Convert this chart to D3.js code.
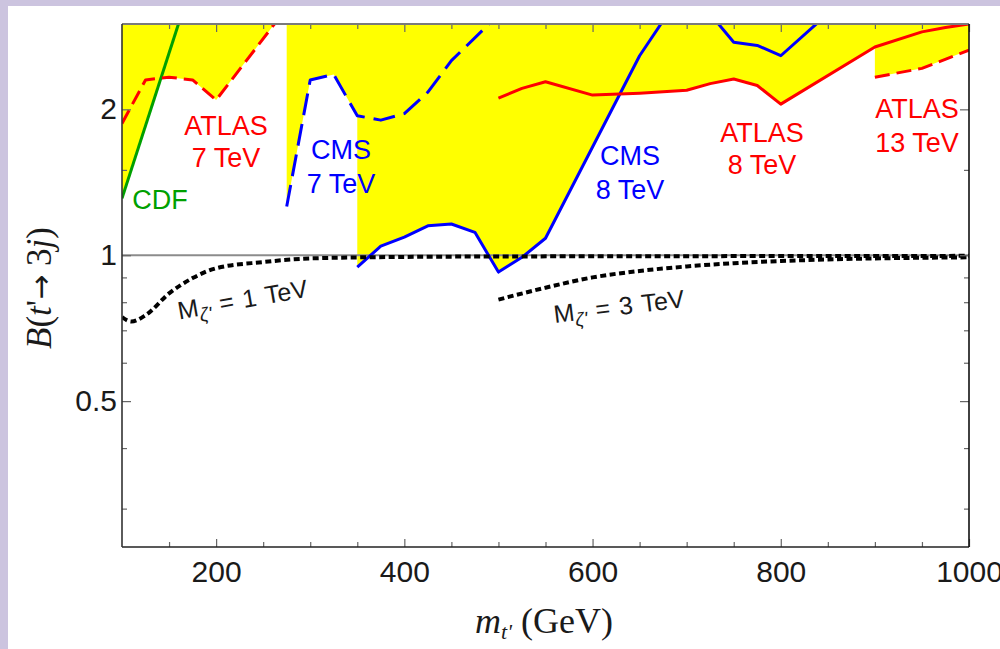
<!DOCTYPE html>
<html>
<head>
<meta charset="utf-8">
<script src="https://cdn.jsdelivr.net/npm/d3@7"></script>
<style>
  body { margin: 0; background: #fff; }
  svg { display: block; }
</style>
</head>
<body>
<svg id="chart" width="1000" height="649"></svg>
<script>
// limits (mass in GeV, branching ratio B)
const cdfMass = [100, 160];
const cdfB = [1.31, 3.0];

const atlas7Mass = [100, 125, 150, 175, 200, 262];
const atlas7B = [1.87, 2.30, 2.33, 2.30, 2.09, 3.0];

const cms7Mass = [275, 300, 325, 350, 375, 400, 425, 450, 490];
const cms7B = [1.26, 2.30, 2.36, 1.94, 1.90, 1.96, 2.17, 2.52, 3.0];

const cms8Mass = [350, 375, 400, 425, 450, 475, 500, 525, 550, 650, 700, 750, 775, 800, 850];
const cms8B = [0.945, 1.044, 1.09, 1.15, 1.16, 1.115, 0.923, 0.99, 1.084, 2.58, 3.6, 2.75, 2.71, 2.58, 3.15];

const atlas8Mass = [500, 525, 550, 600, 650, 700, 725, 750, 775, 800, 900, 950, 975, 1000];
const atlas8B = [2.11, 2.21, 2.28, 2.14, 2.16, 2.19, 2.26, 2.31, 2.24, 2.05, 2.69, 2.89, 2.95, 3.0];

const atlas13Mass = [900, 950, 1000];
const atlas13B = [2.33, 2.43, 2.65];

// model predictions
const zeta1Mass = [100, 110, 125, 150, 175, 200, 250, 300, 400, 500, 600, 800, 1000];
const zeta1B = [0.745, 0.73, 0.752, 0.834, 0.897, 0.94, 0.968, 0.985, 0.992, 0.994, 0.995, 0.996, 0.997];

const zeta3Mass = [500, 550, 600, 650, 700, 750, 800, 850, 900, 950, 1000];
const zeta3B = [0.81, 0.857, 0.9, 0.928, 0.948, 0.963, 0.973, 0.98, 0.985, 0.988, 0.99];

// ticks
const xMajor = [200, 400, 600, 800, 1000];
const xMinor = [150, 250, 300, 350, 450, 500, 550, 650, 700, 750, 850, 900, 950];
const yMajor = [0.5, 1, 2];
const yMinor = [0.3, 0.4, 0.6, 0.7, 0.8, 0.9, 1.5];

const zip = (a, b) => a.map((v, i) => [v, b[i]]);

const svg = d3.select("#chart");
const W = 1000, H = 649;
const plotL = 122, plotR = 969, plotT = 24, plotB = 547;

svg.append("rect").attr("width", W).attr("height", H).attr("fill", "#fff");
svg.append("rect").attr("width", 8).attr("height", H).attr("fill", "#ccc4df");
svg.append("rect").attr("width", W).attr("height", 6).attr("fill", "#ccc4df");

const x = d3.scaleLinear().domain([100, 1000]).range([plotL, plotR]);
const y = d3.scaleLog().domain([0.25, 3]).range([plotB, plotT]);

svg.append("clipPath").attr("id", "plotclip")
  .append("rect")
  .attr("x", plotL).attr("y", plotT)
  .attr("width", plotR - plotL).attr("height", plotB - plotT);

const plot = svg.append("g").attr("clip-path", "url(#plotclip)");

// excluded regions (yellow), everything above each limit
const above = d3.area()
  .x(d => x(d[0]))
  .y0(y(3) - 40)
  .y1(d => y(d[1]));

[
  zip(cdfMass, cdfB),
  zip(atlas7Mass, atlas7B),
  zip(cms7Mass, cms7B),
  zip(cms8Mass, cms8B),
  zip(atlas8Mass, atlas8B),
  zip(atlas13Mass, atlas13B),
].forEach(pts => {
  plot.append("path").attr("d", above(pts)).attr("fill", "#ffff00");
});

// B = 1 reference
plot.append("line")
  .attr("x1", plotL).attr("x2", plotR)
  .attr("y1", y(1)).attr("y2", y(1))
  .attr("stroke", "#8c8c8c").attr("stroke-width", 2.2);

const line = d3.line().x(d => x(d[0])).y(d => y(d[1]));
const smooth = d3.line().x(d => x(d[0])).y(d => y(d[1])).curve(d3.curveMonotoneX);

const series = [
  { pts: zip(cdfMass, cdfB), color: "#00a000", dash: null },
  { pts: zip(atlas7Mass, atlas7B), color: "#ff0000", dash: "15,7" },
  { pts: zip(cms7Mass, cms7B), color: "#0000ff", dash: "22,9" },
  { pts: zip(cms8Mass, cms8B), color: "#0000ff", dash: null },
  { pts: zip(atlas8Mass, atlas8B), color: "#ff0000", dash: null },
  { pts: zip(atlas13Mass, atlas13B), color: "#ff0000", dash: "15,7" },
];

series.forEach(s => {
  plot.append("path")
    .attr("d", line(s.pts))
    .attr("fill", "none")
    .attr("stroke", s.color)
    .attr("stroke-width", 3)
    .attr("stroke-linejoin", "round")
    .attr("stroke-dasharray", s.dash);
});

[zip(zeta1Mass, zeta1B), zip(zeta3Mass, zeta3B)].forEach(pts => {
  plot.append("path")
    .attr("d", smooth(pts))
    .attr("fill", "none")
    .attr("stroke", "#000")
    .attr("stroke-width", 4)
    .attr("stroke-dasharray", "6,3.5");
});

// axes, ticks drawn inward
const tickFont = g => g.selectAll("text")
  .attr("font-family", "Liberation Sans, Arial, sans-serif")
  .attr("font-size", 30)
  .attr("fill", "#1a1a1a");

const styleAxis = g => {
  g.select(".domain").remove();
  g.selectAll("line").attr("stroke", "#666").attr("stroke-width", 1.2);
};

svg.append("g").attr("transform", `translate(0,${plotB})`)
  .call(d3.axisBottom(x).tickValues(xMinor).tickSize(-5).tickFormat(""))
  .call(styleAxis);
svg.append("g").attr("transform", `translate(0,${plotB})`)
  .call(d3.axisBottom(x).tickValues(xMajor).tickSize(-8).tickPadding(14).tickFormat(d3.format("d")))
  .call(styleAxis).call(tickFont);

svg.append("g").attr("transform", `translate(0,${plotT})`)
  .call(d3.axisTop(x).tickValues(xMinor).tickSize(-5).tickFormat(""))
  .call(styleAxis);
svg.append("g").attr("transform", `translate(0,${plotT})`)
  .call(d3.axisTop(x).tickValues(xMajor).tickSize(-8).tickFormat(""))
  .call(styleAxis);

svg.append("g").attr("transform", `translate(${plotL},0)`)
  .call(d3.axisLeft(y).tickValues(yMinor).tickSize(-5).tickFormat(""))
  .call(styleAxis);
svg.append("g").attr("transform", `translate(${plotL},0)`)
  .call(d3.axisLeft(y).tickValues(yMajor).tickSize(-9).tickPadding(5).tickFormat(d3.format("")))
  .call(styleAxis).call(tickFont);

svg.append("g").attr("transform", `translate(${plotR},0)`)
  .call(d3.axisRight(y).tickValues(yMinor).tickSize(-5).tickFormat(""))
  .call(styleAxis);
svg.append("g").attr("transform", `translate(${plotR},0)`)
  .call(d3.axisRight(y).tickValues(yMajor).tickSize(-9).tickFormat(""))
  .call(styleAxis);

// frame
svg.append("line").attr("x1", plotL).attr("x2", plotR).attr("y1", plotT).attr("y2", plotT)
  .attr("stroke", "#7a7a7a").attr("stroke-width", 2);
svg.append("line").attr("x1", plotL).attr("x2", plotR).attr("y1", plotB).attr("y2", plotB)
  .attr("stroke", "#222").attr("stroke-width", 1.6);
svg.append("line").attr("x1", plotL).attr("x2", plotL).attr("y1", plotT).attr("y2", plotB)
  .attr("stroke", "#333").attr("stroke-width", 1.6);
svg.append("line").attr("x1", plotR).attr("x2", plotR).attr("y1", plotT).attr("y2", plotB)
  .attr("stroke", "#111").attr("stroke-width", 1.6);

// experiment labels
const sans = "Liberation Sans, Arial, sans-serif";
const labels = [
  { lines: ["ATLAS", "7 TeV"], cx: 226, y0: 135, dy: 32, color: "#ff0000" },
  { lines: ["CMS", "7 TeV"], cx: 341, y0: 159, dy: 34, color: "#0000ff" },
  { lines: ["CMS", "8 TeV"], cx: 630, y0: 165, dy: 34, color: "#0000ff" },
  { lines: ["ATLAS", "8 TeV"], cx: 762, y0: 142, dy: 32, color: "#ff0000" },
  { lines: ["ATLAS", "13 TeV"], cx: 917, y0: 118, dy: 34, color: "#ff0000" },
  { lines: ["CDF"], cx: 160, y0: 209, dy: 0, color: "#00a000" },
];
labels.forEach(l => {
  const t = svg.append("text")
    .attr("font-family", sans).attr("font-size", 27)
    .attr("fill", l.color).attr("text-anchor", "middle");
  l.lines.forEach((s, i) => {
    t.append("tspan").attr("x", l.cx).attr("y", l.y0 + i * l.dy).text(s);
  });
});

// model labels
const modelLabel = (cx, cy, angle, mass) => {
  const t = svg.append("text")
    .attr("font-family", sans).attr("font-size", 25).attr("fill", "#1a1a1a")
    .attr("text-anchor", "middle")
    .attr("word-spacing", 2)
    .attr("transform", `translate(${cx},${cy}) rotate(${angle})`);
  t.append("tspan").text("M");
  t.append("tspan").attr("font-size", 19).attr("font-style", "italic").attr("dy", 6).text("ζ'");
  t.append("tspan").attr("dy", -6).text(` = ${mass} TeV`);
};
modelLabel(244, 308, -10, 1);
modelLabel(620, 315, -7, 3);

// axis titles
const serif = "Liberation Serif, Times New Roman, serif";
const yt = svg.append("text")
  .attr("font-family", serif).attr("font-size", 35).attr("fill", "#1a1a1a")
  .attr("text-anchor", "middle")
  .attr("transform", "translate(51,288) rotate(-90)");
yt.append("tspan").attr("font-style", "italic").text("B");
yt.append("tspan").text("(");
yt.append("tspan").attr("font-style", "italic").text("t");
yt.append("tspan").text("'");
yt.append("tspan").attr("font-family", "DejaVu Sans, sans-serif").attr("font-size", 30).text("→");
yt.append("tspan").text(" 3");
yt.append("tspan").attr("font-style", "italic").text("j");
yt.append("tspan").text(")");

const xt = svg.append("text")
  .attr("font-family", serif).attr("font-size", 36).attr("fill", "#1a1a1a")
  .attr("text-anchor", "middle")
  .attr("transform", "translate(544,633)");
xt.append("tspan").attr("font-style", "italic").text("m");
xt.append("tspan").attr("font-style", "italic").attr("font-size", 22).attr("dy", 6).text("t'");
xt.append("tspan").attr("dy", -6).text(" (GeV)");
</script>
</body>
</html>
